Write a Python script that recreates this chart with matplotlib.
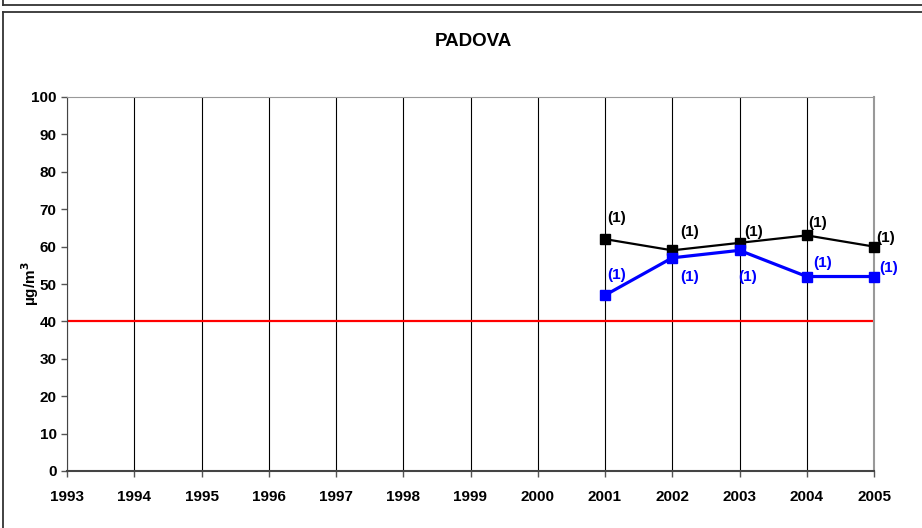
import matplotlib
matplotlib.use("Agg")
import matplotlib.pyplot as plt
from matplotlib.lines import Line2D

plt.rcParams["font.family"] = ["Liberation Sans", "DejaVu Sans"]
plt.rcParams["font.weight"] = "bold"

# data
years = list(range(1993, 2006))
obs_years = [2001, 2002, 2003, 2004, 2005]
black_vals = [62, 59, 61, 63, 60]
blue_vals = [47, 57, 59, 52, 52]
limit = 40
labels = ["(1)"] * 5
# label offsets (pixels)
black_off = [(12, 21), (17, 18), (14, 11), (11, 12), (12, 9)]
blue_off = [(12, 20), (17, -19), (8, -27), (16, 14), (15, 9)]

fig = plt.figure(figsize=(9.22, 5.28), dpi=100)
ax = fig.add_axes([67 / 922, 57 / 528, 807 / 922, 374 / 528])

for y in years:
    ax.axvline(y, color="black", lw=0.8, zorder=0)
ax.plot([years[0], years[-1]], [limit, limit], color="#ff0000", lw=1.6, zorder=2)
ax.plot(obs_years, black_vals, color="black", lw=1.6, marker="s", ms=6.5,
        zorder=3, clip_on=False)
ax.plot(obs_years, blue_vals, color="#0000ff", lw=2.3, marker="s", ms=6.5,
        zorder=4, clip_on=False)

for x, v, off, t in zip(obs_years, black_vals, black_off, labels):
    ax.annotate(t, (x, v), xytext=off, textcoords="offset pixels",
                ha="center", va="center", fontsize=11, fontweight="bold", color="black")
for x, v, off, t in zip(obs_years, blue_vals, blue_off, labels):
    ax.annotate(t, (x, v), xytext=off, textcoords="offset pixels",
                ha="center", va="center", fontsize=11, fontweight="bold", color="#0000ff")

ax.set_xlim(1993, 2005)
ax.set_ylim(0, 100)
ax.set_xticks(years)
ax.set_yticks(range(0, 101, 10))
ax.tick_params(axis="both", labelsize=11, length=4, width=1, color="#555555")
ax.tick_params(axis="x", pad=10)
for lab in ax.get_xticklabels() + ax.get_yticklabels():
    lab.set_fontweight("bold")
ax.spines["left"].set_color("#444444")
ax.spines["bottom"].set_color("#444444")
ax.spines["bottom"].set_linewidth(1.5)
ax.spines["top"].set_color("#999999")
ax.spines["right"].set_color("#999999")
ax.spines["right"].set_linewidth(1.5)

ax.set_ylabel("µg/m$^{3}$", fontsize=11, fontweight="bold", labelpad=-7)
fig.text(473 / 922, 1 - 41 / 528, "PADOVA", ha="center", va="center",
         fontsize=13.5, fontweight="bold")

# outer frames
H, W = 528.0, 922.0
frame = dict(color="#333333", lw=1.3, transform=fig.transFigure)
fig.add_artist(Line2D([3 / W, 1], [1 - 5 / H, 1 - 5 / H], **frame))
fig.add_artist(Line2D([3 / W, 3 / W], [1, 1 - 5 / H], **frame))
fig.add_artist(Line2D([3 / W, 1], [1 - 12 / H, 1 - 12 / H], **frame))
fig.add_artist(Line2D([3 / W, 3 / W], [0, 1 - 12 / H], **frame))

fig.savefig("out.png", dpi=100)
